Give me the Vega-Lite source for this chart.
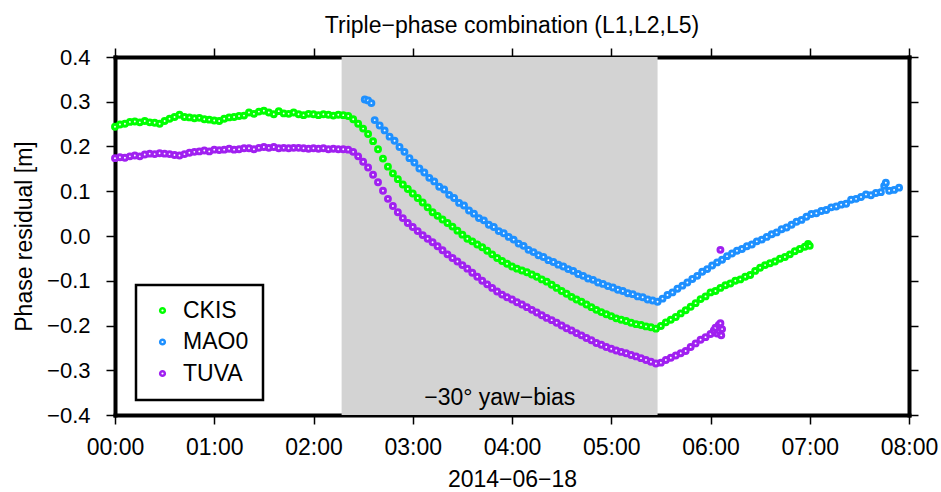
{
"$schema":"https://vega.github.io/schema/vega-lite/v6.json",
"autosize":{"type":"none"},
"padding":{"left":115,"top":57,"right":32,"bottom":77},
"width":794,"height":358,
"config":{
 "font":"Liberation Sans",
 "view":{"stroke":null},
 "axis":{"grid":false,"domainColor":"black","domainWidth":4,"domainCap":"square","tickColor":"black","tickWidth":1.5,"tickSize":9,"labelColor":"black","labelFont":"Liberation Sans","labelFontSize":23,"titleFont":"Liberation Sans","titleFontSize":23,"titleFontWeight":"normal","titleColor":"black","zindex":1},
 "legend":{"strokeWidth":2.5}
},
"title":{"text":"Triple−phase combination (L1,L2,L5)","fontSize":23,"fontWeight":"normal","font":"Liberation Sans","color":"black","baseline":"alphabetic","offset":17,"dy":27},
"datasets":{
"band":[{"start":137,"end":328,"mid":232.6,"label":"−30° yaw−bias"}],
"pts":[
{"s":"CKIS","t":0,"v":0.244},{"s":"CKIS","t":3,"v":0.249},{"s":"CKIS","t":6,"v":0.251},{"s":"CKIS","t":9,"v":0.255},{"s":"CKIS","t":12,"v":0.256},{"s":"CKIS","t":15,"v":0.254},{"s":"CKIS","t":18,"v":0.257},{"s":"CKIS","t":21,"v":0.254},{"s":"CKIS","t":24,"v":0.253},{"s":"CKIS","t":27,"v":0.251},{"s":"CKIS","t":30,"v":0.257},{"s":"CKIS","t":33,"v":0.262},{"s":"CKIS","t":36,"v":0.266},{"s":"CKIS","t":39,"v":0.271},{"s":"CKIS","t":42,"v":0.266},{"s":"CKIS","t":45,"v":0.265},{"s":"CKIS","t":48,"v":0.263},{"s":"CKIS","t":51,"v":0.264},{"s":"CKIS","t":54,"v":0.261},{"s":"CKIS","t":57,"v":0.26},{"s":"CKIS","t":60,"v":0.258},{"s":"CKIS","t":63,"v":0.257},{"s":"CKIS","t":66,"v":0.262},{"s":"CKIS","t":69,"v":0.265},{"s":"CKIS","t":72,"v":0.266},{"s":"CKIS","t":75,"v":0.268},{"s":"CKIS","t":78,"v":0.269},{"s":"CKIS","t":81,"v":0.276},{"s":"CKIS","t":84,"v":0.273},{"s":"CKIS","t":87,"v":0.278},{"s":"CKIS","t":90,"v":0.28},{"s":"CKIS","t":93,"v":0.276},{"s":"CKIS","t":96,"v":0.272},{"s":"CKIS","t":99,"v":0.279},{"s":"CKIS","t":102,"v":0.274},{"s":"CKIS","t":105,"v":0.273},{"s":"CKIS","t":108,"v":0.276},{"s":"CKIS","t":111,"v":0.272},{"s":"CKIS","t":114,"v":0.27},{"s":"CKIS","t":117,"v":0.273},{"s":"CKIS","t":120,"v":0.272},{"s":"CKIS","t":123,"v":0.27},{"s":"CKIS","t":126,"v":0.272},{"s":"CKIS","t":129,"v":0.271},{"s":"CKIS","t":132,"v":0.269},{"s":"CKIS","t":135,"v":0.271},{"s":"CKIS","t":138,"v":0.27},{"s":"CKIS","t":141,"v":0.268},{"s":"CKIS","t":144,"v":0.261},{"s":"CKIS","t":147,"v":0.251},{"s":"CKIS","t":150,"v":0.24},{"s":"CKIS","t":153,"v":0.228},{"s":"CKIS","t":156,"v":0.212},{"s":"CKIS","t":159,"v":0.194},{"s":"CKIS","t":162,"v":0.173},{"s":"CKIS","t":165,"v":0.155},{"s":"CKIS","t":168,"v":0.14},{"s":"CKIS","t":171,"v":0.127},{"s":"CKIS","t":174,"v":0.115},{"s":"CKIS","t":177,"v":0.105},{"s":"CKIS","t":180,"v":0.095},{"s":"CKIS","t":183,"v":0.085},{"s":"CKIS","t":186,"v":0.075},{"s":"CKIS","t":189,"v":0.064},{"s":"CKIS","t":192,"v":0.053},{"s":"CKIS","t":195,"v":0.045},{"s":"CKIS","t":198,"v":0.037},{"s":"CKIS","t":201,"v":0.029},{"s":"CKIS","t":204,"v":0.021},{"s":"CKIS","t":207,"v":0.012},{"s":"CKIS","t":210,"v":0.003},{"s":"CKIS","t":213,"v":-0.006},{"s":"CKIS","t":216,"v":-0.012},{"s":"CKIS","t":219,"v":-0.019},{"s":"CKIS","t":222,"v":-0.025},{"s":"CKIS","t":225,"v":-0.033},{"s":"CKIS","t":228,"v":-0.041},{"s":"CKIS","t":231,"v":-0.049},{"s":"CKIS","t":234,"v":-0.056},{"s":"CKIS","t":237,"v":-0.062},{"s":"CKIS","t":240,"v":-0.068},{"s":"CKIS","t":243,"v":-0.073},{"s":"CKIS","t":246,"v":-0.077},{"s":"CKIS","t":249,"v":-0.081},{"s":"CKIS","t":252,"v":-0.086},{"s":"CKIS","t":255,"v":-0.091},{"s":"CKIS","t":258,"v":-0.097},{"s":"CKIS","t":261,"v":-0.102},{"s":"CKIS","t":264,"v":-0.109},{"s":"CKIS","t":267,"v":-0.116},{"s":"CKIS","t":270,"v":-0.123},{"s":"CKIS","t":273,"v":-0.129},{"s":"CKIS","t":276,"v":-0.136},{"s":"CKIS","t":279,"v":-0.142},{"s":"CKIS","t":282,"v":-0.147},{"s":"CKIS","t":285,"v":-0.153},{"s":"CKIS","t":288,"v":-0.159},{"s":"CKIS","t":291,"v":-0.165},{"s":"CKIS","t":294,"v":-0.17},{"s":"CKIS","t":297,"v":-0.175},{"s":"CKIS","t":300,"v":-0.179},{"s":"CKIS","t":303,"v":-0.184},{"s":"CKIS","t":306,"v":-0.187},{"s":"CKIS","t":309,"v":-0.19},{"s":"CKIS","t":312,"v":-0.194},{"s":"CKIS","t":315,"v":-0.197},{"s":"CKIS","t":318,"v":-0.199},{"s":"CKIS","t":321,"v":-0.202},{"s":"CKIS","t":324,"v":-0.204},{"s":"CKIS","t":327,"v":-0.207},{"s":"CKIS","t":330,"v":-0.201},{"s":"CKIS","t":333,"v":-0.193},{"s":"CKIS","t":336,"v":-0.187},{"s":"CKIS","t":339,"v":-0.181},{"s":"CKIS","t":342,"v":-0.173},{"s":"CKIS","t":345,"v":-0.166},{"s":"CKIS","t":348,"v":-0.158},{"s":"CKIS","t":351,"v":-0.15},{"s":"CKIS","t":354,"v":-0.141},{"s":"CKIS","t":357,"v":-0.135},{"s":"CKIS","t":360,"v":-0.126},{"s":"CKIS","t":363,"v":-0.123},{"s":"CKIS","t":366,"v":-0.116},{"s":"CKIS","t":369,"v":-0.11},{"s":"CKIS","t":372,"v":-0.106},{"s":"CKIS","t":375,"v":-0.1},{"s":"CKIS","t":378,"v":-0.097},{"s":"CKIS","t":381,"v":-0.091},{"s":"CKIS","t":384,"v":-0.087},{"s":"CKIS","t":387,"v":-0.078},{"s":"CKIS","t":390,"v":-0.071},{"s":"CKIS","t":393,"v":-0.065},{"s":"CKIS","t":396,"v":-0.061},{"s":"CKIS","t":399,"v":-0.057},{"s":"CKIS","t":402,"v":-0.051},{"s":"CKIS","t":405,"v":-0.047},{"s":"CKIS","t":408,"v":-0.041},{"s":"CKIS","t":411,"v":-0.034},{"s":"CKIS","t":414,"v":-0.029},{"s":"CKIS","t":417,"v":-0.024},{"s":"CKIS","t":419,"v":-0.018},{"s":"CKIS","t":420,"v":-0.022},
{"s":"MAO0","t":151,"v":0.305},{"s":"MAO0","t":153,"v":0.303},{"s":"MAO0","t":155,"v":0.297},{"s":"MAO0","t":157,"v":0.259},{"s":"MAO0","t":160,"v":0.247},{"s":"MAO0","t":163,"v":0.236},{"s":"MAO0","t":166,"v":0.222},{"s":"MAO0","t":169,"v":0.213},{"s":"MAO0","t":172,"v":0.199},{"s":"MAO0","t":175,"v":0.188},{"s":"MAO0","t":178,"v":0.174},{"s":"MAO0","t":181,"v":0.164},{"s":"MAO0","t":184,"v":0.151},{"s":"MAO0","t":187,"v":0.142},{"s":"MAO0","t":190,"v":0.13},{"s":"MAO0","t":193,"v":0.122},{"s":"MAO0","t":196,"v":0.11},{"s":"MAO0","t":199,"v":0.104},{"s":"MAO0","t":202,"v":0.092},{"s":"MAO0","t":205,"v":0.085},{"s":"MAO0","t":208,"v":0.074},{"s":"MAO0","t":211,"v":0.068},{"s":"MAO0","t":214,"v":0.057},{"s":"MAO0","t":217,"v":0.05},{"s":"MAO0","t":220,"v":0.04},{"s":"MAO0","t":223,"v":0.035},{"s":"MAO0","t":226,"v":0.025},{"s":"MAO0","t":229,"v":0.02},{"s":"MAO0","t":232,"v":0.011},{"s":"MAO0","t":235,"v":0.006},{"s":"MAO0","t":238,"v":-0.002},{"s":"MAO0","t":241,"v":-0.008},{"s":"MAO0","t":244,"v":-0.017},{"s":"MAO0","t":247,"v":-0.022},{"s":"MAO0","t":250,"v":-0.031},{"s":"MAO0","t":253,"v":-0.036},{"s":"MAO0","t":256,"v":-0.043},{"s":"MAO0","t":259,"v":-0.047},{"s":"MAO0","t":262,"v":-0.054},{"s":"MAO0","t":265,"v":-0.058},{"s":"MAO0","t":268,"v":-0.064},{"s":"MAO0","t":271,"v":-0.068},{"s":"MAO0","t":274,"v":-0.074},{"s":"MAO0","t":277,"v":-0.078},{"s":"MAO0","t":280,"v":-0.085},{"s":"MAO0","t":283,"v":-0.089},{"s":"MAO0","t":286,"v":-0.095},{"s":"MAO0","t":289,"v":-0.098},{"s":"MAO0","t":292,"v":-0.104},{"s":"MAO0","t":295,"v":-0.107},{"s":"MAO0","t":298,"v":-0.112},{"s":"MAO0","t":301,"v":-0.115},{"s":"MAO0","t":304,"v":-0.12},{"s":"MAO0","t":307,"v":-0.123},{"s":"MAO0","t":310,"v":-0.128},{"s":"MAO0","t":313,"v":-0.13},{"s":"MAO0","t":316,"v":-0.135},{"s":"MAO0","t":319,"v":-0.137},{"s":"MAO0","t":322,"v":-0.142},{"s":"MAO0","t":325,"v":-0.144},{"s":"MAO0","t":328,"v":-0.147},{"s":"MAO0","t":331,"v":-0.14},{"s":"MAO0","t":334,"v":-0.132},{"s":"MAO0","t":337,"v":-0.126},{"s":"MAO0","t":340,"v":-0.118},{"s":"MAO0","t":343,"v":-0.111},{"s":"MAO0","t":346,"v":-0.104},{"s":"MAO0","t":349,"v":-0.096},{"s":"MAO0","t":352,"v":-0.089},{"s":"MAO0","t":355,"v":-0.08},{"s":"MAO0","t":358,"v":-0.074},{"s":"MAO0","t":361,"v":-0.066},{"s":"MAO0","t":364,"v":-0.059},{"s":"MAO0","t":367,"v":-0.053},{"s":"MAO0","t":370,"v":-0.045},{"s":"MAO0","t":373,"v":-0.039},{"s":"MAO0","t":376,"v":-0.033},{"s":"MAO0","t":379,"v":-0.029},{"s":"MAO0","t":382,"v":-0.023},{"s":"MAO0","t":385,"v":-0.019},{"s":"MAO0","t":388,"v":-0.012},{"s":"MAO0","t":391,"v":-0.008},{"s":"MAO0","t":394,"v":-0.002},{"s":"MAO0","t":397,"v":0.004},{"s":"MAO0","t":400,"v":0.008},{"s":"MAO0","t":403,"v":0.015},{"s":"MAO0","t":406,"v":0.019},{"s":"MAO0","t":409,"v":0.025},{"s":"MAO0","t":412,"v":0.032},{"s":"MAO0","t":415,"v":0.036},{"s":"MAO0","t":418,"v":0.043},{"s":"MAO0","t":421,"v":0.049},{"s":"MAO0","t":424,"v":0.051},{"s":"MAO0","t":427,"v":0.056},{"s":"MAO0","t":430,"v":0.058},{"s":"MAO0","t":433,"v":0.064},{"s":"MAO0","t":436,"v":0.066},{"s":"MAO0","t":439,"v":0.07},{"s":"MAO0","t":442,"v":0.072},{"s":"MAO0","t":445,"v":0.081},{"s":"MAO0","t":448,"v":0.083},{"s":"MAO0","t":451,"v":0.087},{"s":"MAO0","t":454,"v":0.093},{"s":"MAO0","t":457,"v":0.091},{"s":"MAO0","t":460,"v":0.096},{"s":"MAO0","t":463,"v":0.098},{"s":"MAO0","t":465,"v":0.112},{"s":"MAO0","t":466,"v":0.119},{"s":"MAO0","t":468,"v":0.101},{"s":"MAO0","t":471,"v":0.103},{"s":"MAO0","t":474,"v":0.108},
{"s":"TUVA","t":0,"v":0.174},{"s":"TUVA","t":3,"v":0.176},{"s":"TUVA","t":6,"v":0.175},{"s":"TUVA","t":9,"v":0.178},{"s":"TUVA","t":12,"v":0.18},{"s":"TUVA","t":15,"v":0.178},{"s":"TUVA","t":18,"v":0.182},{"s":"TUVA","t":21,"v":0.184},{"s":"TUVA","t":24,"v":0.183},{"s":"TUVA","t":27,"v":0.185},{"s":"TUVA","t":30,"v":0.184},{"s":"TUVA","t":33,"v":0.183},{"s":"TUVA","t":36,"v":0.181},{"s":"TUVA","t":39,"v":0.18},{"s":"TUVA","t":42,"v":0.183},{"s":"TUVA","t":45,"v":0.186},{"s":"TUVA","t":48,"v":0.188},{"s":"TUVA","t":51,"v":0.189},{"s":"TUVA","t":54,"v":0.191},{"s":"TUVA","t":57,"v":0.189},{"s":"TUVA","t":60,"v":0.193},{"s":"TUVA","t":63,"v":0.192},{"s":"TUVA","t":66,"v":0.193},{"s":"TUVA","t":69,"v":0.195},{"s":"TUVA","t":72,"v":0.193},{"s":"TUVA","t":75,"v":0.194},{"s":"TUVA","t":78,"v":0.196},{"s":"TUVA","t":81,"v":0.196},{"s":"TUVA","t":84,"v":0.194},{"s":"TUVA","t":87,"v":0.197},{"s":"TUVA","t":90,"v":0.199},{"s":"TUVA","t":93,"v":0.197},{"s":"TUVA","t":96,"v":0.199},{"s":"TUVA","t":99,"v":0.196},{"s":"TUVA","t":102,"v":0.197},{"s":"TUVA","t":105,"v":0.196},{"s":"TUVA","t":108,"v":0.197},{"s":"TUVA","t":111,"v":0.197},{"s":"TUVA","t":114,"v":0.196},{"s":"TUVA","t":117,"v":0.195},{"s":"TUVA","t":120,"v":0.196},{"s":"TUVA","t":123,"v":0.195},{"s":"TUVA","t":126,"v":0.196},{"s":"TUVA","t":129,"v":0.194},{"s":"TUVA","t":132,"v":0.195},{"s":"TUVA","t":135,"v":0.194},{"s":"TUVA","t":138,"v":0.194},{"s":"TUVA","t":141,"v":0.193},{"s":"TUVA","t":144,"v":0.188},{"s":"TUVA","t":147,"v":0.178},{"s":"TUVA","t":150,"v":0.166},{"s":"TUVA","t":153,"v":0.153},{"s":"TUVA","t":156,"v":0.137},{"s":"TUVA","t":159,"v":0.12},{"s":"TUVA","t":162,"v":0.101},{"s":"TUVA","t":165,"v":0.083},{"s":"TUVA","t":168,"v":0.067},{"s":"TUVA","t":171,"v":0.053},{"s":"TUVA","t":174,"v":0.04},{"s":"TUVA","t":177,"v":0.029},{"s":"TUVA","t":180,"v":0.02},{"s":"TUVA","t":183,"v":0.011},{"s":"TUVA","t":186,"v":0.002},{"s":"TUVA","t":189,"v":-0.006},{"s":"TUVA","t":192,"v":-0.014},{"s":"TUVA","t":195,"v":-0.023},{"s":"TUVA","t":198,"v":-0.032},{"s":"TUVA","t":201,"v":-0.041},{"s":"TUVA","t":204,"v":-0.049},{"s":"TUVA","t":207,"v":-0.057},{"s":"TUVA","t":210,"v":-0.065},{"s":"TUVA","t":213,"v":-0.073},{"s":"TUVA","t":216,"v":-0.082},{"s":"TUVA","t":219,"v":-0.091},{"s":"TUVA","t":222,"v":-0.1},{"s":"TUVA","t":225,"v":-0.108},{"s":"TUVA","t":228,"v":-0.116},{"s":"TUVA","t":231,"v":-0.124},{"s":"TUVA","t":234,"v":-0.131},{"s":"TUVA","t":237,"v":-0.137},{"s":"TUVA","t":240,"v":-0.142},{"s":"TUVA","t":243,"v":-0.148},{"s":"TUVA","t":246,"v":-0.153},{"s":"TUVA","t":249,"v":-0.159},{"s":"TUVA","t":252,"v":-0.165},{"s":"TUVA","t":255,"v":-0.171},{"s":"TUVA","t":258,"v":-0.177},{"s":"TUVA","t":261,"v":-0.183},{"s":"TUVA","t":264,"v":-0.188},{"s":"TUVA","t":267,"v":-0.194},{"s":"TUVA","t":270,"v":-0.2},{"s":"TUVA","t":273,"v":-0.206},{"s":"TUVA","t":276,"v":-0.211},{"s":"TUVA","t":279,"v":-0.217},{"s":"TUVA","t":282,"v":-0.222},{"s":"TUVA","t":285,"v":-0.228},{"s":"TUVA","t":288,"v":-0.233},{"s":"TUVA","t":291,"v":-0.239},{"s":"TUVA","t":294,"v":-0.243},{"s":"TUVA","t":297,"v":-0.248},{"s":"TUVA","t":300,"v":-0.252},{"s":"TUVA","t":303,"v":-0.256},{"s":"TUVA","t":306,"v":-0.259},{"s":"TUVA","t":309,"v":-0.262},{"s":"TUVA","t":312,"v":-0.266},{"s":"TUVA","t":315,"v":-0.269},{"s":"TUVA","t":318,"v":-0.273},{"s":"TUVA","t":321,"v":-0.277},{"s":"TUVA","t":324,"v":-0.281},{"s":"TUVA","t":327,"v":-0.285},{"s":"TUVA","t":330,"v":-0.283},{"s":"TUVA","t":333,"v":-0.277},{"s":"TUVA","t":336,"v":-0.272},{"s":"TUVA","t":339,"v":-0.267},{"s":"TUVA","t":342,"v":-0.262},{"s":"TUVA","t":345,"v":-0.257},{"s":"TUVA","t":348,"v":-0.248},{"s":"TUVA","t":351,"v":-0.24},{"s":"TUVA","t":354,"v":-0.232},{"s":"TUVA","t":357,"v":-0.226},{"s":"TUVA","t":360,"v":-0.219},{"s":"TUVA","t":362,"v":-0.211},{"s":"TUVA","t":363,"v":-0.205},{"s":"TUVA","t":364,"v":-0.218},{"s":"TUVA","t":365,"v":-0.199},{"s":"TUVA","t":365.5,"v":-0.213},{"s":"TUVA","t":366,"v":-0.195},{"s":"TUVA","t":366.5,"v":-0.222},{"s":"TUVA","t":367,"v":-0.208},{"s":"TUVA","t":366,"v":-0.031}
]},
"layer":[
 {"data":{"name":"band"},"mark":{"type":"rect","color":"#d3d3d3"},
  "encoding":{
   "x":{"field":"start","type":"quantitative","scale":{"domain":[0,480],"nice":false,"zero":false},
        "axis":{"orient":"bottom","values":[0,60,120,180,240,300,360,420,480],"labelExpr":"utcFormat(datum.value*60000,'%H:%M')","title":"2014−06−18","labelPadding":12,"titlePadding":9,"labelFlush":false,"labelOverlap":false}},
   "x2":{"field":"end"}}},
 {"data":{"name":"pts"},"mark":{"type":"point","shape":"circle","filled":false,"fill":"white","strokeWidth":3,"size":24,"opacity":1},
  "encoding":{
   "x":{"field":"t","type":"quantitative","scale":{"domain":[0,480],"nice":false,"zero":false},
        "axis":{"orient":"top","values":[0,60,120,180,240,300,360,420,480],"labels":false,"title":null}},
   "y":{"field":"v","type":"quantitative","scale":{"domain":[-0.4,0.4],"nice":false,"zero":false},
        "axis":{"orient":"left","values":[-0.4,-0.3,-0.2,-0.1,0,0.1,0.2,0.3,0.4],"format":".1f","labelFontSize":22,"labelPadding":16,"title":"Phase residual [m]","titlePadding":10,"labelFlush":false,"labelOverlap":false}},
   "stroke":{"field":"s","type":"nominal","scale":{"domain":["CKIS","MAO0","TUVA"],"range":["#00ff00","#1e90ff","#a020f0"]},
        "legend":{"orient":"none","legendX":21,"legendY":228,"title":null,"direction":"vertical","fillColor":"white","strokeColor":"black","padding":14,"cornerRadius":0,"symbolType":"circle","symbolSize":22,"symbolStrokeWidth":2.5,"symbolFillColor":"white","symbolOffset":1,"labelOffset":9,"labelFontSize":23,"labelFont":"Liberation Sans","labelColor":"black","rowPadding":7.5,"labelBaseline":"middle"}}}},
 {"data":{"name":"band"},"mark":{"type":"text","fontSize":23,"baseline":"alphabetic","align":"center","color":"black","font":"Liberation Sans"},
  "encoding":{
   "x":{"field":"mid","type":"quantitative","scale":{"domain":[0,480],"nice":false,"zero":false},"axis":null},
   "y":{"datum":-0.378,"type":"quantitative","scale":{"domain":[-0.4,0.4],"nice":false,"zero":false},
        "axis":{"orient":"right","values":[-0.4,-0.3,-0.2,-0.1,0,0.1,0.2,0.3,0.4],"labels":false,"title":null}},
   "text":{"field":"label"}}}
],
"resolve":{"axis":{"x":"independent","y":"independent"}}
}
